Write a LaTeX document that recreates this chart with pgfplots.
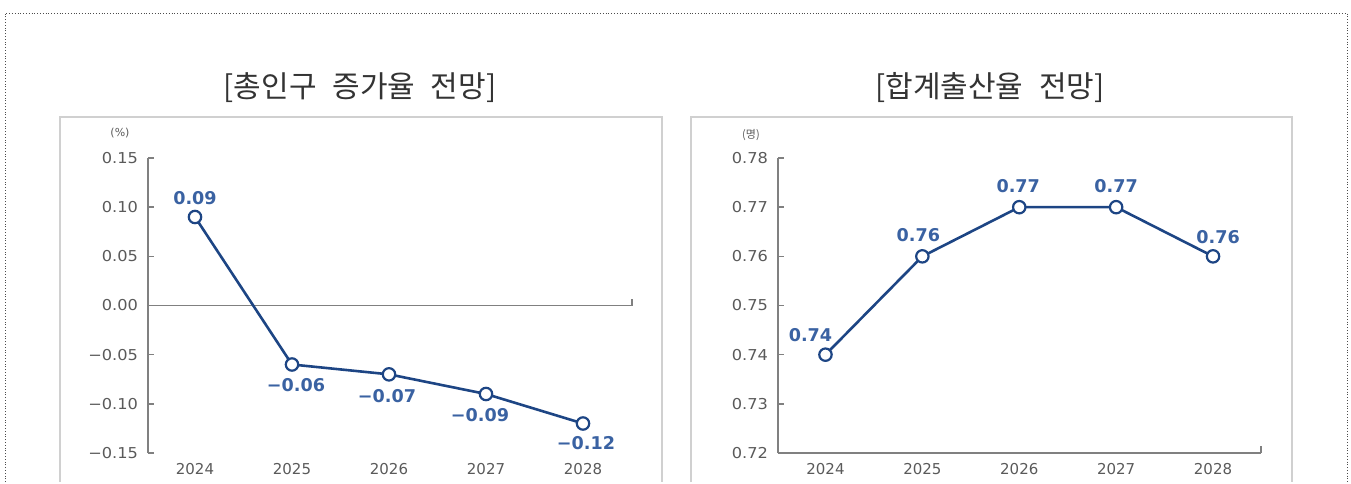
\documentclass[border=0pt]{standalone}
\usepackage{fontspec}
\setmainfont{DejaVu Sans}
\newfontfamily\kr{Noto Sans CJK KR}
\usepackage{pgfplots}
\usepackage{pgfplotstable}
\pgfplotsset{compat=1.18}
\definecolor{linec}{HTML}{1D4584}
\definecolor{labc}{HTML}{3A62A2}
\definecolor{tickc}{HTML}{5A5A5A}
\definecolor{axisc}{HTML}{808080}
\definecolor{boxc}{HTML}{D0D0D0}
\definecolor{titlec}{HTML}{333333}

\pgfplotstableread{
x y lab dx dy
0 0.09 0.09 0 9.5
1 -0.06 −0.06 2 -10.5
2 -0.07 −0.07 -1 -11
3 -0.09 −0.09 -3 -10.5
4 -0.12 −0.12 1.5 -10
}\leftdata

\pgfplotstableread{
x y lab dx dy
0 0.74 0.74 -7.5 10
1 0.76 0.76 -2 10.5
2 0.77 0.77 -0.5 10.5
3 0.77 0.77 0 10.5
4 0.76 0.76 2.5 9.5
}\rightdata

\pgfplotsset{
  panel/.style={
    scale only axis, height=147.5pt, anchor=south west,
    axis y line=left, axis x line=bottom,
    axis line style={-, draw=axisc, line width=0.8pt},
    tick align=inside, major tick length=3pt,
    ytick style={draw=axisc, line width=0.8pt},
    xtick={0,1,2,3,4}, xticklabels={2024,2025,2026,2027,2028},
    xtick style={draw=none},
    ticklabel style={font=\fontsize{7.5}{8}\selectfont, text=tickc},
    yticklabel style={xshift=-1.2pt, xscale=1.08},
    xticklabel style={yshift=-1.5pt},
    clip=false,
  },
  series/.style={
    linec, line width=1.3pt, mark=*, mark size=3.1pt,
    mark options={fill=white, draw=linec, line width=1.1pt, solid},
    nodes near coords, point meta=explicit symbolic,
    visualization depends on={\thisrow{dx}\as\dx},
    visualization depends on={\thisrow{dy}\as\dy},
    every node near coord/.append style={font=\bfseries\fontsize{8.8}{10}\selectfont,
      text=labc, anchor=center, xshift=\dx pt, yshift=\dy pt},
  },
}

\begin{document}
\begin{tikzpicture}
\path (0pt,0pt) rectangle (675.5pt,241pt);
% outer dotted frame
\draw[black!70, densely dotted, line width=0.4pt] (2.5pt,0pt) -- (2.5pt,234.5pt) -- (673.5pt,234.5pt) -- (673.5pt,0pt);
% panel boxes
\draw[boxc, line width=1pt] (30pt,0pt) -- (30pt,182.5pt) -- (331pt,182.5pt) -- (331pt,0pt);
\draw[boxc, line width=1pt] (345.5pt,0pt) -- (345.5pt,182.5pt) -- (646pt,182.5pt) -- (646pt,0pt);
% titles
\node[text=titlec, font=\kr\fontsize{15}{17}\selectfont] at (180pt,197pt) {[총인구\hspace{0.3em} 증가율\hspace{0.3em} 전망]};
\node[text=titlec, font=\kr\fontsize{15}{17}\selectfont] at (495pt,197pt) {[합계출산율\hspace{0.3em} 전망]};
% unit labels
\node[text=tickc, font=\fontsize{5.5}{6}\selectfont] at (60pt,174.5pt) {(\%)};
\node[text=tickc, font=\kr\fontsize{5.5}{6}\selectfont] at (375.5pt,173.5pt) {(명)};

\begin{axis}[panel, at={(74pt,14.5pt)}, width=242pt,
  xmin=-0.4845, xmax=4.505, ymin=-0.15, ymax=0.15,
  x axis line style={draw=none},
  ytick={-0.15,-0.10,-0.05,0,0.05,0.10,0.15},
  yticklabels={−0.15,−0.10,−0.05,0.00,0.05,0.10,0.15}]
\draw[axisc, line width=0.8pt] (axis cs:-0.4845,0) -- (axis cs:4.505,0) -- ++(0pt,3.5pt);
\addplot[series] table[x=x, y=y, meta=lab] {\leftdata};
\end{axis}

\begin{axis}[panel, at={(389pt,14.5pt)}, width=241.5pt,
  xmin=-0.49, xmax=4.495, ymin=0.72, ymax=0.78,
  ytick={0.72,0.73,0.74,0.75,0.76,0.77,0.78},
  yticklabels={0.72,0.73,0.74,0.75,0.76,0.77,0.78}]
\draw[axisc, line width=0.8pt] (axis cs:4.495,0.72) -- ++(0pt,3.5pt);
\addplot[series] table[x=x, y=y, meta=lab] {\rightdata};
\end{axis}
\end{tikzpicture}
\end{document}
